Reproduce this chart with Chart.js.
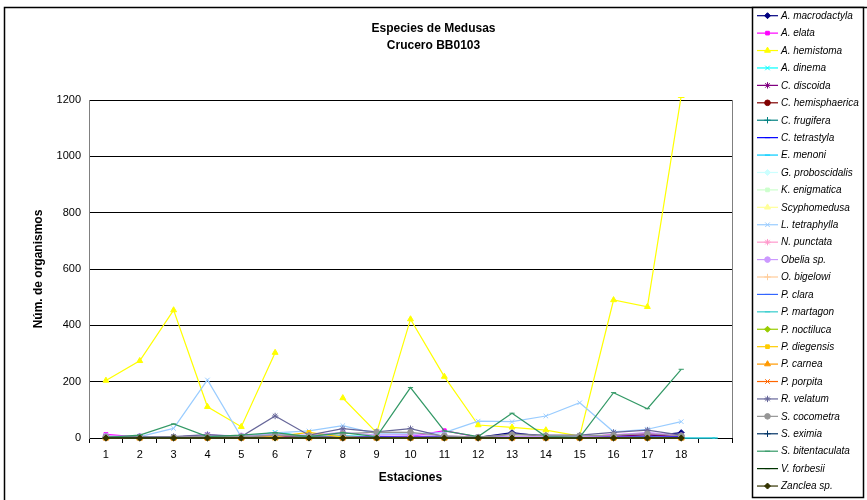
<!DOCTYPE html>
<html>
<head>
<meta charset="utf-8">
<script src="https://cdn.jsdelivr.net/npm/chart.js@4.4.1/dist/chart.umd.min.js"></script>
<style>
  html, body { margin: 0; padding: 0; background: #fff; }
  #wrap { width: 867px; height: 500px; position: relative; }
</style>
</head>
<body>
<div id="wrap"><canvas id="c" width="867" height="500"></canvas></div>
<script>
// ---------- data ----------
const stations = ['1','2','3','4','5','6','7','8','9','10','11','12','13','14','15','16','17','18',''];

const aMacrodactyla   = [2, 1, 2, 3, 2, 4, 2, 3, 5, 4, 3, 2, 19, 5, 3, 8, 6, 19, null];
const aElata          = [13, 3, 2, 3, 2, 3, 4, 3, 2, 5, 26, 3, 3, 2, 2, 12, 15, 10, null];
const aHemistoma      = [204, 274, 454, 111, 40, 303, null, 142, 19, 422, 218, 46, 38, 28, 7, 490, 466, 1215, null];
const aDinema         = [2, 2, 3, 5, 3, 20, 5, 8, 5, 5, 3, 2, 3, 2, 2, 5, 3, 3, null];
const cDiscoida       = [3, 2, 3, 10, 5, 8, 4, 6, 4, 5, 3, 2, 4, 3, 3, 6, 12, 5, null];
const cHemisphaerica  = [0, 0, 0, 0, 0, 8, 2, 0, 0, 0, 0, 0, 0, 0, 0, 0, 0, 0, null];
const cFrugifera      = [1, 2, 3, 2, 3, 12, 3, 5, 3, 4, 2, 1, 2, 2, 2, 3, 2, 2, null];
const cTetrastyla     = [1, 1, 1, 1, 1, 2, 1, 2, 4, 6, 2, 1, 5, 2, 1, 5, 3, 5, null];
const eMenoni         = [0, 0, 0, 0, 0, 0, 0, 0, 0, 0, 0, 0, 0, 0, 0, 0, 0, 0, 0];
const gProboscidalis  = [0, 0, 0, 0, 0, 0, 0, 0, 0, 0, 0, 0, 0, 0, 0, 0, 0, 0, null];
const kEnigmatica     = [0, 0, 0, 0, 0, 0, 0, 0, 0, 0, 0, 0, 0, 0, 0, 0, 0, 0, null];
const scyphomedusa    = [0, 0, 0, 0, 0, 0, 0, 0, 0, 0, 0, 0, 0, 0, 0, 0, 0, 0, null];
const lTetraphylla    = [5, 5, 34, 206, 3, 18, 25, 44, 15, 15, 19, 60, 58, 78, 125, 22, 31, 58, null];
const nPunctata       = [2, 2, 2, 3, 2, 3, 2, 3, 2, 3, 2, 1, 2, 2, 2, 3, 2, 2, null];
const obelia          = [8, 6, 3, 10, 8, 12, 10, 20, 10, 12, 8, 3, 5, 5, 5, 10, 20, 8, null];
const oBigelowi       = [0, 0, 0, 0, 0, 0, 0, 0, 0, 0, 0, 0, 0, 0, 0, 0, 0, 0, null];
const pClara          = [0, 0, 0, 0, 0, 0, 0, 0, 0, 0, 0, 0, 0, 0, 0, 0, 0, 0, null];
const pMartagon       = [0, 0, 0, 0, 0, 0, 0, 0, 0, 0, 0, 0, 0, 0, 0, 0, 0, 0, 0];
const pNoctiluca      = [0, 0, 0, 0, 0, 0, 0, 0, 0, 0, 0, 0, 0, 0, 0, 0, 0, 0, null];
const pDiegensis      = [0, 0, 0, 0, 0, 5, 20, 3, 0, 0, 0, 0, 0, 0, 0, 0, 0, 0, null];
const pCarnea         = [0, 0, 0, 0, 0, 0, 0, 0, 0, 0, 0, 0, 0, 0, 0, 0, 0, 0, null];
const pPorpita        = [0, 0, 0, 0, 0, 0, 0, 0, 0, 0, 0, 0, 0, 0, 0, 0, 0, 0, null];
const rVelatum        = [5, 5, 5, 12, 5, 78, 10, 33, 22, 33, 5, 2, 15, 10, 10, 20, 28, 10, null];
const sCocometra      = [3, 3, 3, 5, 5, 10, 8, 15, 21, 20, 8, 3, 12, 8, 8, 10, 15, 8, null];
const sEximia         = [0, 0, 0, 0, 0, 0, 0, 0, 0, 0, 0, 0, 0, 0, 0, 0, 0, 0, null];
const sBitentaculata  = [2, 10, 50, 5, 10, 19, 5, 19, 5, 179, 25, 5, 88, 5, 2, 161, 104, 244, null];
const vForbesii       = [0, 0, 0, 0, 0, 0, 0, 0, 0, 0, 0, 0, 0, 0, 0, 0, 0, 0, null];
const zanclea         = [0, 0, 0, 0, 0, 0, 0, 0, 0, 0, 0, 0, 0, 0, 0, 0, 0, 0, null];

const yTicks = [0, 200, 400, 600, 800, 1000, 1200];

const seriesNames = ['A. macrodactyla','A. elata','A. hemistoma','A. dinema','C. discoida','C. hemisphaerica',
  'C. frugifera','C. tetrastyla','E. menoni','G. proboscidalis','K. enigmatica','Scyphomedusa',
  'L. tetraphylla','N. punctata','Obelia sp.','O. bigelowi','P. clara','P. martagon','P. noctiluca',
  'P. diegensis','P. carnea','P. porpita','R. velatum','S. cocometra','S. eximia','S. bitentaculata',
  'V. forbesii','Zanclea sp.'];
const seriesValues = [aMacrodactyla, aElata, aHemistoma, aDinema, cDiscoida, cHemisphaerica,
  cFrugifera, cTetrastyla, eMenoni, gProboscidalis, kEnigmatica, scyphomedusa,
  lTetraphylla, nPunctata, obelia, oBigelowi, pClara, pMartagon, pNoctiluca,
  pDiegensis, pCarnea, pPorpita, rVelatum, sCocometra, sEximia, sBitentaculata,
  vForbesii, zanclea];

// ---------- styles ----------
const seriesColors = ['#000080','#FF00FF','#FFFF00','#00FFFF','#800080','#800000','#008080','#0000FF',
  '#00CCFF','#CCFFFF','#CCFFCC','#FFFF99','#99CCFF','#FF99CC','#CC99FF','#FFCC99','#3366FF','#33CCCC',
  '#99CC00','#FFCC00','#FF9900','#FF6600','#666699','#969696','#003366','#339966','#003300','#333300'];
const markerCycle = ['rectRot','rect','triangle','crossRot','star','circle','cross','line','line'];
const markerRadius = {rectRot:3, rect:2.6, triangle:3.4, crossRot:3.2, star:3.2, circle:2.8, cross:3.2, line:2.6};

const FONT = '"Liberation Sans", Arial, sans-serif';

const datasets = seriesNames.map((name, i) => {
  const ps = markerCycle[i % markerCycle.length];
  return {
    label: name,
    data: seriesValues[i],
    borderColor: seriesColors[i],
    backgroundColor: seriesColors[i],
    pointBackgroundColor: seriesColors[i],
    pointBorderColor: seriesColors[i],
    pointStyle: ps,
    pointRadius: markerRadius[ps],
    pointBorderWidth: 1,
    borderWidth: 1.2,
    tension: 0,
    spanGaps: false,
    clip: { left: 0, right: 0, top: 3, bottom: 4 },
    yAxisID: 'y',
    order: seriesNames.length - i
  };
});

// legend + borders plugin
const decor = {
  id: 'decor',
  afterDraw(chart) {
    const ctx = chart.ctx;
    const ca = chart.chartArea;
    ctx.save();
    // plot area right border
    ctx.strokeStyle = '#808080';
    ctx.lineWidth = 1;
    ctx.beginPath();
    ctx.moveTo(Math.round(ca.right) + 0.5, ca.top);
    ctx.lineTo(Math.round(ca.right) + 0.5, ca.bottom);
    ctx.stroke();
    // outer chart border
    ctx.strokeStyle = '#000';
    ctx.lineWidth = 1.5;
    ctx.beginPath();
    ctx.moveTo(4.5, 520);
    ctx.lineTo(4.5, 7.5);
    ctx.lineTo(870, 7.5);
    ctx.stroke();
    // legend box
    const lx = 752, ly = 7, lw = 111, lh = 490;
    ctx.fillStyle = '#fff';
    ctx.fillRect(lx, ly, lw, lh);
    ctx.strokeStyle = '#000';
    ctx.lineWidth = 1.5;
    ctx.strokeRect(lx + 0.5, ly + 0.5, lw, lh);
    const step = 17.42;
    ctx.font = 'italic 10px ' + FONT;
    ctx.textBaseline = 'middle';
    ctx.textAlign = 'left';
    chart.data.datasets.forEach((ds, i) => {
      const y = 15.7 + i * step;
      ctx.strokeStyle = ds.borderColor;
      ctx.lineWidth = 1.2;
      ctx.beginPath();
      ctx.moveTo(757, y);
      ctx.lineTo(778, y);
      ctx.stroke();
      ctx.fillStyle = ds.pointBackgroundColor;
      ctx.strokeStyle = ds.pointBorderColor;
      ctx.lineWidth = 1;
      Chart.helpers.drawPoint(ctx, {pointStyle: ds.pointStyle, radius: ds.pointRadius, rotation: 0, borderWidth: 1}, 767.5, y);
      ctx.fillStyle = '#000';
      ctx.fillText(ds.label, 781, y + 0.5);
    });
    ctx.restore();
  }
};

new Chart(document.getElementById('c'), {
  type: 'line',
  data: { labels: stations, datasets },
  plugins: [decor],
  options: {
    responsive: false,
    animation: false,
    layout: { padding: { left: 0, right: 0, top: 0, bottom: 0 } },
    plugins: {
      legend: { display: false },
      tooltip: { enabled: false },
      title: {
        display: true,
        text: ['Especies de Medusas', 'Crucero BB0103'],
        color: '#000',
        font: { family: FONT, size: 12, weight: 'bold', lineHeight: '17px' },
        padding: { top: 20, bottom: 46 }
      }
    },
    scales: {
      x: {
        type: 'category',
        offset: true,
        grid: { offset: true, drawOnChartArea: false, drawTicks: true, tickLength: 5, color: '#000' },
        border: { color: '#000', width: 1 },
        ticks: { color: '#000', font: { family: FONT, size: 11 }, padding: 5, maxRotation: 0, autoSkip: false },
        title: { display: true, text: 'Estaciones', color: '#000',
                 font: { family: FONT, size: 12, weight: 'bold' }, padding: { top: 0, bottom: 15 } },
        afterFit(scale) { scale.height = 62; }
      },
      y: {
        min: 0, max: 1200,
        afterBuildTicks(scale) { scale.ticks = yTicks.map(v => ({ value: v })); },
        grid: { color: '#000', lineWidth: 1, drawTicks: false },
        border: { color: '#808080', width: 1 },
        ticks: { color: '#000', font: { family: FONT, size: 11 }, padding: 8,
                 callback: (v) => String(v) },
        title: { display: true, text: 'Núm. de organismos', color: '#000',
                 font: { family: FONT, size: 12, weight: 'bold' }, padding: { top: 31, bottom: 0 } },
        afterFit(scale) { scale.width = 89; }
      },
      legendSpace: {
        type: 'linear',
        position: 'right',
        min: 0, max: 1,
        grid: { display: false, drawOnChartArea: false },
        border: { display: false },
        ticks: { display: false },
        afterFit(scale) { scale.width = 135; }
      }
    }
  }
});
</script>
</body>
</html>
